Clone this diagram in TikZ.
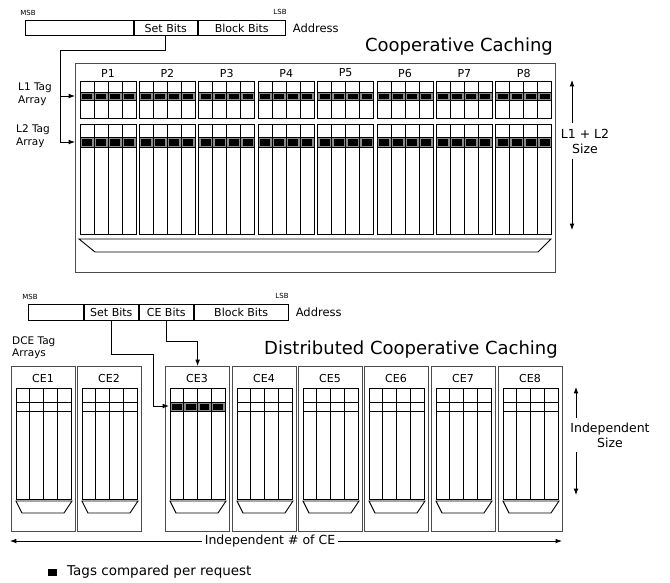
\documentclass[tikz,border=0pt]{standalone}
\usepackage{fontspec}
\setmainfont{DejaVu Sans}
\usetikzlibrary{arrows.meta,positioning}

\begin{document}
\begin{tikzpicture}[
    x=1pt, y=-1pt,
    fld/.style={draw=black, line width=0.9pt, minimum height=15pt, inner sep=0pt, font=\fontsize{11}{13}\selectfont},
    tiny/.style={font=\fontsize{7}{8}\selectfont, inner sep=0pt},
    lbl/.style={font=\fontsize{11}{13}\selectfont, inner sep=0pt},
    side/.style={font=\fontsize{10.5}{12.5}\selectfont, align=left, inner sep=0pt},
    big/.style={font=\fontsize{12.5}{15}\selectfont, align=center, inner sep=0pt},
    ttl/.style={font=\fontsize{18}{21}\selectfont, inner sep=0pt},
    frame/.style={draw=black!70, line width=1.2pt, inner sep=0pt},
    grid/.style={draw=black, line width=0.9pt},
    band/.style={fill=black!45},
    hit/.style={fill=black},
    arr/.style={-{Latex[length=2.2mm]}, line width=0.9pt, draw=black}
  ]
    \useasboundingbox (0,0) rectangle (670,582);

    % Cooperative Caching: address
    \node[fld, minimum width=108pt, anchor=north west] (adrA) at (25,20) {};
    \node[fld, minimum width=63pt, right=0pt of adrA] (setA) {Set Bits};
    \node[fld, minimum width=87pt, right=0pt of setA] (blkA) {Block Bits};
    \node[lbl, font=\fontsize{11.5}{13}\selectfont, right=7pt of blkA] (addrA) {Address};
    \node[tiny] (msbA) at (28,13) {MSB};
    \node[tiny] (lsbA) at (280,12) {LSB};
    \node[ttl] (coop) at (459,47) {Cooperative Caching};

    \node[frame, minimum width=480pt, minimum height=209pt, anchor=north west] (cc) at (75,63) {};
    \node[side, anchor=north west] (l1tag) at (18,83) {L1 Tag\\Array};
    \node[side, anchor=north west] (l2tag) at (16,125) {L2 Tag\\Array};

    \foreach \i in {1,...,8} {
      \pgfmathsetmacro\px{80+59.4*(\i-1)}
      \node[lbl] (p\i) at (\px+28,73) {P\i};
      % L1 tags
      \fill[band] (\px,92) rectangle ++(56,8);
      \foreach \k in {0,...,3} \fill[hit] (\px+14*\k+2,93.5) rectangle ++(10,5);
      \draw[grid] (\px,81) rectangle (\px+56,118);
      \draw[grid] (\px,92) -- ++(56,0) (\px,100) -- ++(56,0);
      \foreach \k in {1,2,3} \draw[grid] (\px+14*\k,81) -- (\px+14*\k,118);
      % L2 tags
      \fill[band] (\px,137) rectangle ++(56,10);
      \foreach \k in {0,...,3} \fill[hit] (\px+14*\k+2,138.5) rectangle ++(10,7);
      \draw[grid] (\px,124) rectangle (\px+56,234);
      \draw[grid] (\px,137) -- ++(56,0) (\px,147) -- ++(56,0);
      \foreach \k in {1,2,3} \draw[grid] (\px+14*\k,124) -- (\px+14*\k,234);
    }
    \draw[grid] (79,239) -- (551,239) -- (538,252) -- (95,252) -- cycle;

    \coordinate (l1in) at (75,96);
    \coordinate (l2in) at (75,142);
    \draw[arr] (setA.south) -- ++(0,15) -| ([xshift=-15pt]l2in) -- (l2in);
    \draw[arr] ([xshift=-15pt]l1in) -- (l1in);

    \node[big] (sizeA) at (585,141) {L1 + L2\\Size};
    \coordinate (sztop) at (572,80);
    \coordinate (szbot) at (572,230);
    \draw[arr, shorten <=6pt] (sizeA.north -| sztop) -- (sztop);
    \draw[arr, shorten <=6pt] (sizeA.south -| szbot) -- (szbot);

    % Distributed Cooperative Caching: address
    \node[fld, minimum width=55pt, minimum height=16pt, anchor=north west] (adrB) at (28,304) {};
    \node[fld, minimum width=54pt, minimum height=16pt, right=0pt of adrB] (setB) {Set Bits};
    \node[fld, minimum width=54pt, minimum height=16pt, right=0pt of setB] (ceB) {CE Bits};
    \node[fld, minimum width=94pt, minimum height=16pt, right=0pt of ceB] (blkB) {Block Bits};
    \node[lbl, font=\fontsize{11.5}{13}\selectfont, right=7pt of blkB] (addrB) {Address};
    \node[tiny] (msbB) at (30,297) {MSB};
    \node[tiny] (lsbB) at (282,296) {LSB};
    \node[side, anchor=north west] (dce) at (12,336) {DCE Tag\\Arrays};
    \node[ttl] (dcoop) at (411,350) {Distributed Cooperative Caching};

    \foreach \c/\cx in {1/11, 2/77, 3/165, 4/232, 5/298, 6/364, 7/431, 8/498} {
      \node[frame, minimum width=64pt, minimum height=165pt, anchor=north west] (ce\c) at (\cx,366) {};
      \node[lbl] (cel\c) at (\cx+32,378) {CE\c};
      \ifnum\c=3
        \fill[band] (\cx+5,402) rectangle ++(55,9);
        \foreach \k in {0,...,3} \fill[hit] (\cx+5+13.75*\k+2,403.5) rectangle ++(9.75,6);
      \fi
      \draw[grid] (\cx+5,388) rectangle (\cx+60,499);
      \draw[grid] (\cx+5,402) -- ++(55,0) (\cx+5,411) -- ++(55,0);
      \foreach \k in {1,2,3} \draw[grid] (\cx+5+13.75*\k,388) -- (\cx+5+13.75*\k,499);
      \draw[grid] (\cx+5,501) -- (\cx+61,501) -- (\cx+53,513) -- (\cx+11,513) -- cycle;
    }

    \coordinate (ce3in) at (169,406);
    \draw[arr] (setB.south) -- ++(0,34) -| ([xshift=-16pt]ce3in) -- (ce3in);
    \draw[arr] (ceB.south) -- ++(0,21) -| (ce3.north);

    \node[big] (sizeB) at (610,435) {Independent\\Size};
    \coordinate (iztop) at (576,387);
    \coordinate (izbot) at (576,495);
    \draw[arr, shorten <=4pt] (sizeB.north -| iztop) -- (iztop);
    \draw[arr, shorten <=4pt] (sizeB.south -| izbot) -- (izbot);

    \node[big, fill=white, inner sep=3pt] (nce) at (270,541) {Independent \# of CE};
    \coordinate (nl) at (10,541);
    \coordinate (nr) at (562,541);
    \draw[arr] (nce.west) -- (nl);
    \draw[arr] (nce.east) -- (nr);

    % legend
    \node[font=\fontsize{13.5}{16}\selectfont, inner sep=0pt, anchor=west] (legend) at (67,572) {Tags compared per request};
    \node[fill=black, minimum width=9pt, minimum height=7pt, inner sep=0pt, left=10pt of legend] (legsq) {};
  \end{tikzpicture}
\end{document}
